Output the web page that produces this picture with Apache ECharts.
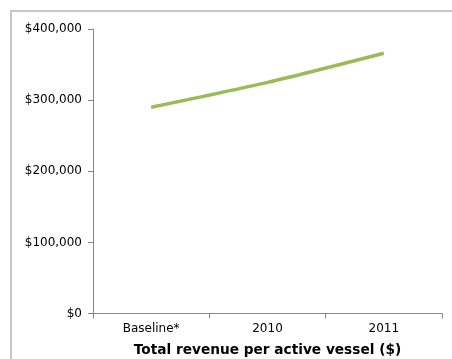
<!DOCTYPE html>
<html>
<head>
<meta charset="utf-8">
<script src="https://cdn.jsdelivr.net/npm/echarts@6/dist/echarts.min.js"></script>
<style>
  html, body { margin: 0; padding: 0; background: #fff; overflow: hidden; }
  #wrap { position: relative; width: 452px; height: 359px; overflow: hidden; }
  /* outer chart-area frame: only its top and left edges fall inside the view */
  #frame {
    position: absolute; left: 10px; top: 10px; width: 600px; height: 600px;
    border-top: 2px solid #c6c6c6; border-left: 2px solid #c6c6c6;
    box-sizing: border-box; pointer-events: none;
  }
  #chart { position: absolute; left: 0; top: 0; width: 452px; height: 359px; }
</style>
</head>
<body>
<div id="wrap">
  <div id="frame"></div>
  <div id="chart"></div>
</div>
<script>
// Revenue per active vessel, by period
const categories = ['Baseline*', '2010', '2011'];
const revenue = [290000, 325000, 366000];
const yTicks = { min: 0, max: 400000, interval: 100000 };
const axisTitle = 'Total revenue per active vessel ($)';

const chart = echarts.init(document.getElementById('chart'));
const font = 'DejaVu Sans, Verdana, sans-serif';

chart.setOption({
  animation: false,
  grid: { left: 93, right: 10, top: 29, bottom: 45.5, outerBoundsMode: 'none', containLabel: false },
  xAxis: {
    type: 'category',
    data: categories,
    boundaryGap: true,
    name: axisTitle,
    nameLocation: 'middle',
    nameGap: 30,
    nameTextStyle: { fontFamily: font, fontSize: 13.7, fontWeight: 'bold', color: '#000' },
    axisLine: { lineStyle: { color: '#868686', width: 1 } },
    axisTick: { show: true, length: 5, lineStyle: { color: '#868686' } },
    axisLabel: { fontFamily: font, fontSize: 12, color: '#000', margin: 9 },
    splitLine: { show: false }
  },
  yAxis: {
    type: 'value',
    min: yTicks.min,
    max: yTicks.max,
    interval: yTicks.interval,
    axisLine: { show: true, lineStyle: { color: '#868686', width: 1 } },
    axisTick: { show: true, length: 5, lineStyle: { color: '#868686' } },
    axisLabel: {
      fontFamily: font, fontSize: 12, color: '#000', margin: 11,
      formatter: v => '$' + v.toLocaleString('en-US')
    },
    splitLine: { show: false }
  },
  series: [{
    type: 'line',
    data: revenue,
    smooth: 0.25,
    symbol: 'none',
    lineStyle: { color: '#9bbb59', width: 3.5 }
  }]
});
</script>
</body>
</html>
